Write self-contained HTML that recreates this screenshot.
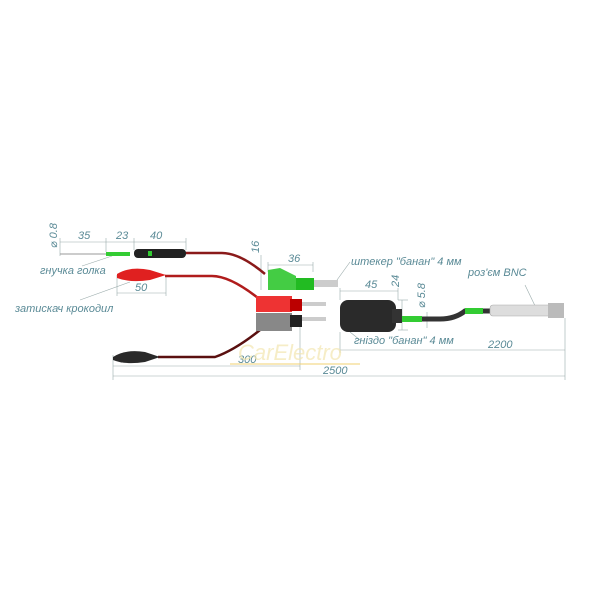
<!DOCTYPE html>
<html><head><meta charset="utf-8"><style>body{margin:0;background:#fff}svg{display:block}text{font-family:"Liberation Sans","DejaVu Sans",sans-serif;font-style:italic;fill:#5a8a96;font-size:11px}</style></head><body>
<svg width="600" height="600" viewBox="0 0 600 600">
<g stroke="#9aa" stroke-width="0.6" fill="none">
<line x1="60" y1="242" x2="186" y2="242"/><line x1="60" y1="238" x2="60" y2="256"/><line x1="106" y1="238" x2="106" y2="252"/><line x1="134" y1="238" x2="134" y2="250"/><line x1="186" y1="238" x2="186" y2="250"/>
<line x1="117" y1="275" x2="117" y2="296"/><line x1="166" y1="275" x2="166" y2="296"/><line x1="117" y1="293" x2="166" y2="293"/>
<line x1="268" y1="265" x2="313" y2="265"/><line x1="268" y1="262" x2="268" y2="272"/><line x1="313" y1="262" x2="313" y2="272"/>
<line x1="261" y1="255" x2="261" y2="290"/>
<line x1="340" y1="291" x2="398" y2="291"/><line x1="340" y1="288" x2="340" y2="300"/><line x1="398" y1="288" x2="398" y2="300"/>
<line x1="402" y1="300" x2="402" y2="330"/><line x1="398" y1="300" x2="408" y2="300"/><line x1="398" y1="330" x2="408" y2="330"/>
<line x1="427" y1="312" x2="427" y2="328"/>
<line x1="340" y1="350" x2="565" y2="350"/><line x1="340" y1="332" x2="340" y2="353"/><line x1="565" y1="318" x2="565" y2="380"/>
<line x1="113" y1="366" x2="300" y2="366"/><line x1="113" y1="355" x2="113" y2="380"/><line x1="300" y1="320" x2="300" y2="370"/>
<line x1="113" y1="376" x2="565" y2="376"/>
<line x1="82" y1="266" x2="112" y2="256"/><line x1="80" y1="300" x2="130" y2="282"/>
<line x1="337" y1="280" x2="350" y2="262"/><line x1="350" y1="332" x2="360" y2="340"/><line x1="525" y1="285" x2="538" y2="312"/>
</g>
<path d="M185 253 H222 Q240 253 265 274" stroke="#8a1a1a" stroke-width="2.5" fill="none"/>
<path d="M165 276 H212 Q230 276 258 298" stroke="#b01c1c" stroke-width="2.5" fill="none"/>
<path d="M158 357 H215 Q235 350 260 330" stroke="#5a1010" stroke-width="2.5" fill="none"/>
<line x1="60" y1="254" x2="106" y2="254" stroke="#999" stroke-width="1"/>
<rect x="106" y="252" width="24" height="4" fill="#3c3"/>
<rect x="134" y="249" width="52" height="9" rx="4" fill="#222"/>
<rect x="148" y="251" width="4" height="5" fill="#3c3"/>
<path d="M117 274 Q130 266 150 270 L166 275 L150 280 Q130 283 117 278Z" fill="#e02020"/>
<path d="M113 357 Q125 349 145 352 L160 357 L145 362 Q125 365 113 360Z" fill="#2a2a2a"/>
<path d="M268 270 L280 268 L296 276 V290 H268Z" fill="#4c4"/>
<rect x="296" y="278" width="18" height="12" fill="#2b2"/>
<rect x="314" y="280" width="24" height="7" fill="#ccc"/>
<rect x="256" y="296" width="36" height="16" fill="#e33"/>
<rect x="290" y="299" width="12" height="12" fill="#b00"/>
<rect x="302" y="302" width="24" height="4" fill="#ccc"/><rect x="302" y="317" width="24" height="4" fill="#ccc"/>
<rect x="256" y="313" width="36" height="18" fill="#888"/>
<rect x="290" y="315" width="12" height="12" fill="#222"/>
<rect x="340" y="300" width="56" height="32" rx="8" fill="#2a2a2a"/>
<rect x="392" y="309" width="10" height="14" fill="#333"/>
<path d="M400 319 H440 Q455 319 465 311 H490" stroke="#333" stroke-width="5" fill="none"/>
<rect x="402" y="316" width="20" height="6" fill="#3c3"/>
<rect x="465" y="308" width="18" height="6" fill="#3c3"/>
<rect x="490" y="305" width="62" height="11" rx="3" fill="#ddd" stroke="#aaa" stroke-width="0.6"/>
<rect x="548" y="303" width="16" height="15" fill="#bbb"/>
<text x="78" y="239">35</text><text x="116" y="239">23</text><text x="150" y="239">40</text>
<text transform="translate(57,248) rotate(-90)">⌀ 0.8</text>
<text x="40" y="274">гнучка голка</text><text x="15" y="312">затискач крокодил</text>
<text x="135" y="291">50</text>
<text transform="translate(259,253) rotate(-90)">16</text>
<text x="288" y="262">36</text>
<text x="351" y="265">штекер "банан" 4 мм</text>
<text x="365" y="288">45</text>
<text transform="translate(399,287) rotate(-90)">24</text>
<text transform="translate(425,308) rotate(-90)">⌀ 5.8</text>
<text x="468" y="276">роз'єм BNC</text>
<text x="354" y="344">гніздо "банан" 4 мм</text>
<text x="488" y="348">2200</text>
<text x="238" y="363">300</text>
<text x="323" y="374">2500</text>
<text x="238" y="360" style="font-size:22px;fill:#f3e6b0;opacity:0.7">CarElectro</text>
<line x1="230" y1="364" x2="360" y2="364" stroke="#f0d070" stroke-width="1"/>
</svg>
</body></html>
